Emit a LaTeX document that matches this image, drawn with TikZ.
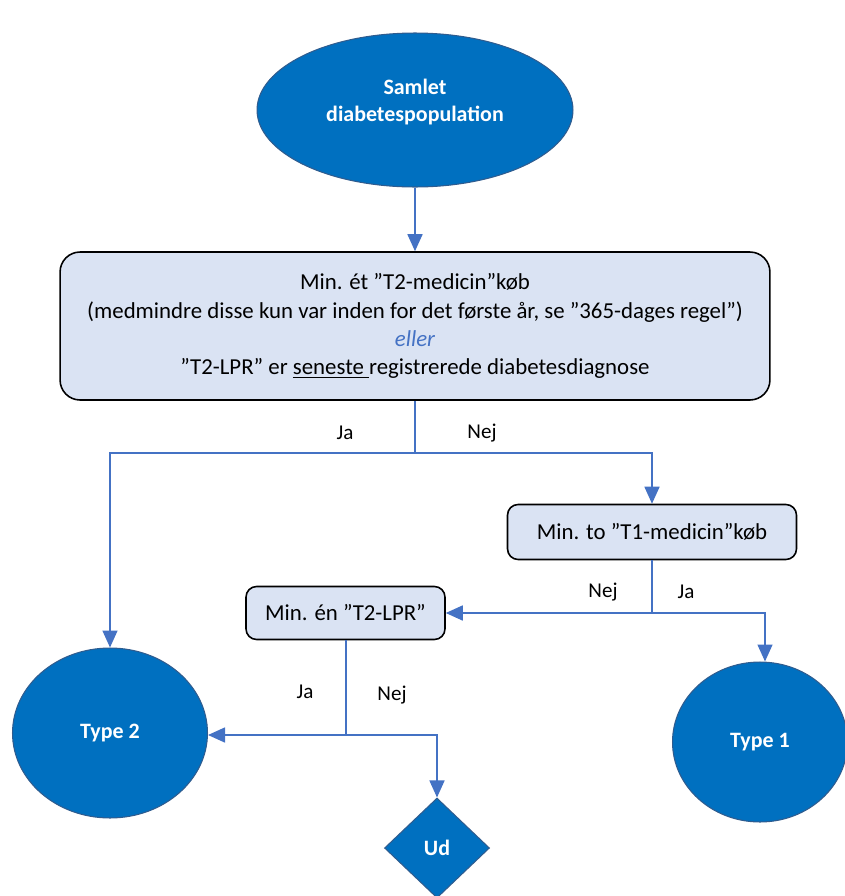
\documentclass[tikz,border=0pt]{standalone}
\usepackage{fontspec}
\setmainfont{Carlito}
\usepackage{xcolor}
\usetikzlibrary{arrows.meta,positioning,shapes.geometric,calc}

\definecolor{popblue}{HTML}{0070C0}
\definecolor{popedge}{HTML}{2F5C8F}
\definecolor{linkblue}{HTML}{4472C4}
\definecolor{boxfill}{HTML}{DAE3F3}

\begin{document}
\begin{tikzpicture}[x=0.02cm, y=-0.02cm,
  box/.style={draw, line width=0.9pt, rounded corners=6pt, fill=boxfill,
              align=center, font=\fontsize{13}{16}\selectfont},
  group/.style={ellipse, draw=popedge, line width=0.6pt, fill=popblue, text=white,
                align=center, font=\fontsize{12.5}{15.5}\selectfont\bfseries},
  outbox/.style={diamond, draw=popedge, line width=0.6pt, fill=popblue, text=white,
                 inner sep=0pt, font=\fontsize{12.5}{16}\selectfont\bfseries},
  arrow/.style={-{Triangle[length=3.4mm, width=3mm]}, linkblue, line width=0.9pt},
  link/.style={linkblue, line width=0.9pt},
  answer/.style={font=\fontsize{12}{14}\selectfont}
]
\useasboundingbox (0,0) rectangle (845,896);

\node[group, minimum width=6.32cm, minimum height=3.08cm] (pop) at (415,110) {};
\node[group, fill=none, draw=none] (poptext) at (415,102) {Samlet\\diabetespopulation};
\node[box, rounded corners=0.4cm, minimum width=14.2cm, minimum height=2.96cm] (crit) at (415,326)
  {Min. ét ”T2-medicin”køb\\
   (medmindre disse kun var inden for det første år, se ”365-dages regel”)\\
   {\color{linkblue}\itshape eller}\\
   ”T2-LPR” er \underline{seneste }registrerede diabetesdiagnose};
\node[box, minimum width=5.78cm, minimum height=1.1cm] (t1med) at (652,532) {Min. to ”T1-medicin”køb};
\node[box, minimum width=3.98cm, minimum height=1.06cm] (t2lpr) at (345.5,613) {Min. én ”T2-LPR”};
\node[group, minimum width=3.9cm, minimum height=3.4cm] (type2) at (110,733) {Type 2};
\node[group, minimum width=3.5cm, minimum height=3.2cm] (type1) at (760,742) {Type 1};
\node[outbox, minimum width=2.1cm, minimum height=2cm] (ud) at (437,848) {Ud};

\coordinate (split1) at (415,453);
\coordinate (split2) at (652,613);
\coordinate (split3) at (346,735);

\draw[arrow] (pop) -- (crit);
\draw[link] (crit.south) -- (split1);
\draw[arrow] (split1) -| (type2.north);
\draw[arrow] (split1) -| (t1med.north);
\draw[link] (t1med.south) -- (split2);
\draw[arrow] (split2) -- (t2lpr.east);
\draw[arrow] (split2) -| ($(type1.north)+(5,0)$);
\draw[link] (t2lpr.south -| split3) -- (split3);
\draw[arrow] (split3) -- (split3 -| type2.east);
\draw[arrow] (split3) -| (ud.north);

\node[answer] (ja1) at (345,433) {Ja};
\node[answer] (nej1) at (482,433) {Nej};
\node[answer] (nej2) at (603,592) {Nej};
\node[answer] (ja2) at (686,592) {Ja};
\node[answer] (ja3) at (305,692) {Ja};
\node[answer] (nej3) at (392,695) {Nej};
\end{tikzpicture}
\end{document}
